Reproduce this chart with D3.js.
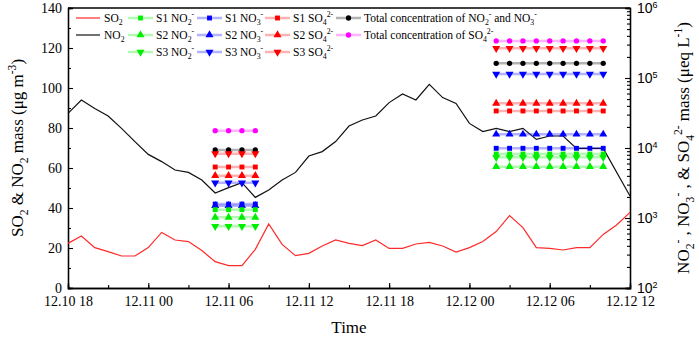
<!DOCTYPE html>
<html><head><meta charset="utf-8">
<script src="https://cdn.jsdelivr.net/npm/d3@7"></script>
<style>body{margin:0;background:#fff}svg{display:block;font-family:"Liberation Serif","Times New Roman",serif}</style>
</head><body><svg id="c" width="699" height="340"></svg>
<script>
// ---------- data ----------
const hourOffsets = [0,1,2,3,4,5,6,7,8,9,10,11,12,13,14,15,16,17,18,19,20,21,22,23,24,25,26,27,28,29,30,31,32,33,34,35,36,37,38,39,40,41,42];
const so2 = [22.3,26,20.2,18.2,16,16,20.2,27.8,24,23.2,18.7,13.2,11.2,11.2,19.3,32,21.8,16.2,17.3,21,24,22.3,21.2,24,19.8,19.8,22,22.8,21,18,20.2,23.2,28.2,36.2,30.2,20.2,19.8,19,20.2,20.2,26.8,31.5,37.8];
const no2 = [87.3,94,89.8,86,79.8,73.2,66.8,63.2,59,57.8,54,47.5,50.2,52.7,45.3,49,54,57.8,66,68.2,73.2,81,84,86,92.7,97,94,101.8,95.2,92.3,82.3,78.2,79.8,78.2,79.8,74.3,76,76,69.8,69.8,69.8,null,46];

const markerHours = [11,12,13,14,32,33,34,35,36,37,38,39,40];
const s1NO2 = [1315,1315,1315,1315,8200,8200,8200,8200,8200,8200,8200,8200,8200];
const s2NO2 = [1023,1023,1023,1023,5410,5410,5410,5410,5410,5410,5410,5410,5410];
const s3NO2 = [760,760,760,760,7360,7360,7360,7360,7360,7360,7360,7360,7360];
const s1NO3 = [1580,1580,1580,1580,9900,9900,9900,9900,9900,9900,9900,9900,9900];
const s2NO3 = [1500,1500,1500,1500,15700,15700,15700,15700,15700,15700,15700,15700,15700];
const s3NO3 = [3190,3190,3190,3190,114000,114000,114000,114000,114000,114000,114000,114000,114000];
const s1SO4 = [5350,5350,5350,5350,33800,33800,33800,33800,33800,33800,33800,33800,33800];
const s2SO4 = [4020,4020,4020,4020,43500,43500,43500,43500,43500,43500,43500,43500,43500];
const s3SO4 = [8300,8300,8300,8300,265000,265000,265000,265000,265000,265000,265000,265000,265000];
const totalNO = [9370,9370,9370,9370,162000,162000,162000,162000,162000,162000,162000,162000,162000];
const totalSO4 = [17700,17700,17700,17700,338000,338000,338000,338000,338000,338000,338000,338000,338000];

const leftTicks = [0,20,40,60,80,100,120,140];
const rightTickExps = [2,3,4,5,6];

// ---------- layout ----------
const svg = d3.select("#c");
const X0 = 68, X1 = 630, Y0 = 8, Y1 = 288;
const start = new Date(2017, 11, 10, 18);
const toDate = h => d3.timeHour.offset(start, h);
const x = d3.scaleTime().domain([toDate(0), toDate(42)]).range([X0, X1]);
const yL = d3.scaleLinear().domain([0, 140]).range([Y1, Y0]);
const yR = d3.scaleLog().domain([100, 1e6]).range([Y1, Y0]);

const FS = 14;

// helper for rich text
function rich(sel, parts, fs) {
  let cur = 0;
  parts.forEach(p => {
    const [t, kind] = Array.isArray(p) ? p : [p, null];
    const target = kind === "sub" ? 0.28 * fs : kind === "sup" ? -0.42 * fs : 0;
    const ts = sel.append("tspan").text(t).attr("dy", (target - cur) + "px");
    if (kind) ts.attr("font-size", (fs * 0.68) + "px");
    cur = target;
  });
}

// ---------- axes ----------
const gL = svg.append("g").attr("transform", `translate(${X0},0)`);
gL.call(d3.axisLeft(yL).tickValues(leftTicks).tickSize(-5).tickPadding(6).tickFormat(d3.format("d")));
gL.append("g").call(d3.axisLeft(yL).tickValues(d3.range(10, 140, 20)).tickSize(-3).tickFormat(""));

const gB = svg.append("g").attr("transform", `translate(0,${Y1})`);
gB.call(d3.axisBottom(x).ticks(d3.timeHour.every(6)).tickSize(-5).tickPadding(8).tickFormat(d3.timeFormat("%m.%d %H")));
gB.append("g").call(d3.axisBottom(x).ticks(d3.timeHour.every(3)).tickSize(-3).tickFormat(""));

const gR = svg.append("g").attr("transform", `translate(${X1},0)`);
gR.call(d3.axisRight(yR).tickValues(rightTickExps.map(e => Math.pow(10, e))).tickSize(-5).tickFormat(""));
const minors = [];
rightTickExps.slice(0, -1).forEach(e => { for (let k = 2; k < 10; k++) minors.push(k * Math.pow(10, e)); });
gR.append("g").call(d3.axisRight(yR).tickValues(minors).tickSize(-3).tickFormat(""));
rightTickExps.forEach(e => {
  const t = gR.append("text").attr("x", 7).attr("y", yR(Math.pow(10, e)) + 5).attr("font-size", FS + "px").attr("fill", "#000");
  t.append("tspan").text("10");
  t.append("tspan").text(e).attr("font-size", "9px").attr("dy", "-5px");
});

svg.selectAll(".domain").attr("stroke", "#000").attr("stroke-width", 1.3);
svg.selectAll(".tick line").attr("stroke", "#000").attr("stroke-width", 1.1);
svg.selectAll(".tick text").attr("font-size", FS + "px").attr("font-family", "Liberation Serif").attr("fill", "#000");
svg.append("line").attr("x1", X0).attr("x2", X1).attr("y1", Y0).attr("y2", Y0).attr("stroke", "#000").attr("stroke-width", 1.3);

// axis titles
svg.append("text").attr("x", (X0 + X1) / 2).attr("y", 333).attr("text-anchor", "middle").attr("font-size", "17px").text("Time");
const lt = svg.append("text").attr("transform", `translate(23,${(Y0 + Y1) / 2}) rotate(-90)`).attr("text-anchor", "middle").attr("font-size", "17px");
rich(lt, ["SO", ["2", "sub"], " & NO", ["2", "sub"], " mass (μg m", ["-3", "sup"], ")"], 17);
const rt = svg.append("text").attr("transform", `translate(689,${(Y0 + Y1) / 2}) rotate(-90)`).attr("text-anchor", "middle").attr("font-size", "17px");
rich(rt, ["NO", ["2", "sub"], ["-", "sup"], " , NO", ["3", "sub"], ["-", "sup"], " , & SO", ["4", "sub"], ["2-", "sup"], " mass (μeq L", ["-1", "sup"], ")"], 17);

// ---------- lines ----------
const lineL = d3.line().x(d => x(toDate(d.h))).y(d => yL(d.v));
const so2Pts = hourOffsets.map((h, i) => ({ h, v: so2[i] }));
const no2Pts = hourOffsets.map((h, i) => ({ h, v: no2[i] })).filter(d => d.v !== null);
svg.append("path").datum(no2Pts).attr("d", lineL).attr("fill", "none").attr("stroke", "#111").attr("stroke-width", 1.2);
svg.append("path").datum(so2Pts).attr("d", lineL).attr("fill", "none").attr("stroke", "#ff2a2a").attr("stroke-width", 1.2);

// ---------- marker series ----------
const GREEN = "#00ee00", BLUE = "#0000ff", RED = "#ff0000", BLACK = "#000000", MAG = "#ff00ff";
const series = [
  { values: totalSO4, color: MAG, shape: "circle" },
  { values: totalNO, color: BLACK, shape: "circle" },
  { values: s3SO4, color: RED, shape: "down" },
  { values: s1SO4, color: RED, shape: "square" },
  { values: s2SO4, color: RED, shape: "up" },
  { values: s3NO3, color: BLUE, shape: "down" },
  { values: s2NO3, color: BLUE, shape: "up" },
  { values: s1NO3, color: BLUE, shape: "square" },
  { values: s1NO2, color: GREEN, shape: "square" },
  { values: s3NO2, color: GREEN, shape: "down" },
  { values: s2NO2, color: GREEN, shape: "up" }
];
function symPath(shape) {
  if (shape === "circle") return d3.symbol(d3.symbolCircle, 22)();
  if (shape === "square") return d3.symbol(d3.symbolSquare, 24)();
  return d3.symbol(d3.symbolTriangle, 28)();
}
function symTransform(shape, px, py) {
  return `translate(${px},${py})` + (shape === "down" ? " rotate(180)" : "");
}
const lineR = d3.line().x(d => x(toDate(d.h))).y(d => yR(d.v));
series.forEach(s => {
  const pts = markerHours.map((h, i) => ({ h, v: s.values[i] }));
  const segs = [];
  pts.forEach((p, i) => {
    if (i === 0 || p.h - pts[i - 1].h > 1) segs.push([]);
    segs[segs.length - 1].push(p);
  });
  segs.forEach(seg => svg.append("path").datum(seg).attr("d", lineR).attr("fill", "none")
    .attr("stroke", s.color).attr("stroke-opacity", 0.3).attr("stroke-width", 2.5));
  svg.append("g").selectAll("path").data(pts).join("path")
    .attr("d", symPath(s.shape))
    .attr("transform", d => symTransform(s.shape, x(toDate(d.h)), yR(d.v)))
    .attr("fill", s.color);
});

// ---------- legend ----------
const LFS = 11.5;
const legendItems = [
  { col: 0, row: 0, type: "line", color: "#ff2a2a", parts: ["SO", ["2", "sub"]] },
  { col: 0, row: 1, type: "line", color: "#111", parts: ["NO", ["2", "sub"]] },
  { col: 1, row: 0, color: GREEN, shape: "square", parts: ["S1 NO", ["2", "sub"], ["-", "sup"]] },
  { col: 1, row: 1, color: GREEN, shape: "up", parts: ["S2 NO", ["2", "sub"], ["-", "sup"]] },
  { col: 1, row: 2, color: GREEN, shape: "down", parts: ["S3 NO", ["2", "sub"], ["-", "sup"]] },
  { col: 2, row: 0, color: BLUE, shape: "square", parts: ["S1 NO", ["3", "sub"], ["-", "sup"]] },
  { col: 2, row: 1, color: BLUE, shape: "up", parts: ["S2 NO", ["3", "sub"], ["-", "sup"]] },
  { col: 2, row: 2, color: BLUE, shape: "down", parts: ["S3 NO", ["3", "sub"], ["-", "sup"]] },
  { col: 3, row: 0, color: RED, shape: "square", parts: ["S1 SO", ["4", "sub"], ["2-", "sup"]] },
  { col: 3, row: 1, color: RED, shape: "up", parts: ["S2 SO", ["4", "sub"], ["2-", "sup"]] },
  { col: 3, row: 2, color: RED, shape: "down", parts: ["S3 SO", ["4", "sub"], ["2-", "sup"]] },
  { col: 4, row: 0, color: BLACK, shape: "circle", parts: ["Total concentration of NO", ["2", "sub"], ["-", "sup"], " and NO", ["3", "sub"], ["-", "sup"]] },
  { col: 4, row: 1, color: MAG, shape: "circle", parts: ["Total concentration of SO", ["4", "sub"], ["2-", "sup"]] }
];
const colX = [76, 128, 197, 265, 336];
const rowY = [18, 35, 52];
const lg = svg.append("g");
legendItems.forEach(it => {
  const lx = colX[it.col], ly = rowY[it.row];
  if (it.type === "line") {
    lg.append("line").attr("x1", lx).attr("x2", lx + 24).attr("y1", ly).attr("y2", ly).attr("stroke", it.color).attr("stroke-width", 1.2);
  } else {
    lg.append("line").attr("x1", lx).attr("x2", lx + 25).attr("y1", ly).attr("y2", ly).attr("stroke", it.color).attr("stroke-opacity", 0.3).attr("stroke-width", 2.5);
    lg.append("path").attr("d", symPath(it.shape)).attr("transform", symTransform(it.shape, lx + 12.5, ly)).attr("fill", it.color);
  }
  const t = lg.append("text").attr("x", lx + 28).attr("y", ly + 4).attr("font-size", LFS + "px").attr("fill", "#000");
  rich(t, it.parts, LFS);
});
</script></body></html>
